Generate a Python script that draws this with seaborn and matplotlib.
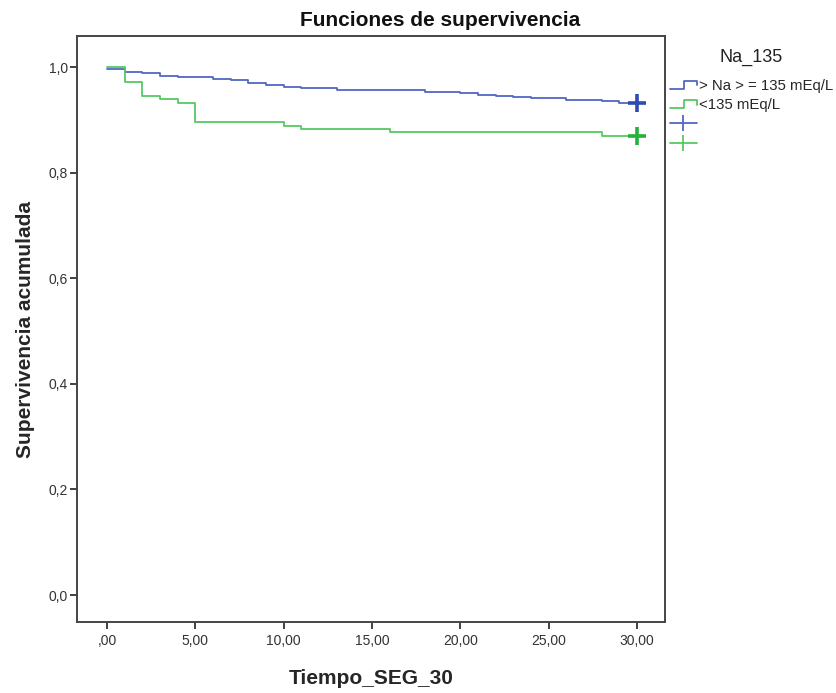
import numpy as np
import pandas as pd
import seaborn as sns
import matplotlib
import matplotlib.pyplot as plt
from matplotlib.lines import Line2D
from matplotlib.legend_handler import HandlerBase, HandlerLine2D

matplotlib.use('Agg')

# Kaplan-Meier steps
t_alto = [0, 1, 2, 3, 4, 6, 7, 8, 9, 10, 11, 13, 18, 20, 21, 22, 23, 24, 26, 28, 29, 30]
s_alto = [0.997, 0.991, 0.989, 0.984, 0.981, 0.978, 0.975, 0.970, 0.967, 0.963, 0.960,
          0.957, 0.953, 0.951, 0.948, 0.945, 0.943, 0.941, 0.938, 0.936, 0.932, 0.932]
t_bajo = [0, 1, 2, 3, 4, 5, 10, 11, 16, 28, 30]
s_bajo = [1.0, 0.971, 0.946, 0.940, 0.933, 0.896, 0.889, 0.883, 0.877, 0.870, 0.870]

grupos = ["> Na > = 135 mEq/L", "<135 mEq/L"]
colores_linea = ["#5068c4", "#56c862"]
colores_censura = ["#2f4cb0", "#25b23a"]

x_ticks = [0, 5, 10, 15, 20, 25, 30]
x_labels = [",00", "5,00", "10,00", "15,00", "20,00", "25,00", "30,00"]
y_ticks = [0.0, 0.2, 0.4, 0.6, 0.8, 1.0]
y_labels = ["0,0", "0,2", "0,4", "0,6", "0,8", "1,0"]

df = pd.concat([
    pd.DataFrame({"t": t_alto, "s": s_alto, "grupo": grupos[0]}),
    pd.DataFrame({"t": t_bajo, "s": s_bajo, "grupo": grupos[1]}),
], ignore_index=True)
censura = df.groupby("grupo", sort=False).tail(1)

sns.set_theme(style="white")
plt.rcParams['font.family'] = ['Liberation Sans', 'DejaVu Sans']

fig = plt.figure(figsize=(8.36, 6.93), dpi=100)
ax = fig.add_axes([0.0927, 0.1025, 0.7028, 0.8455])

sns.lineplot(data=df, x="t", y="s", hue="grupo", palette=colores_linea,
             drawstyle="steps-post", estimator=None, legend=False, lw=1.3, ax=ax)
# censored marks at the end of each curve
sns.scatterplot(data=censura, x="t", y="s", hue="grupo", palette=colores_censura,
                marker="+", s=170, linewidth=2.6, legend=False, ax=ax, zorder=5)

ax.set_xlim(-1.67, 31.58)
ax.set_ylim(-0.051, 1.059)
ax.set_xticks(x_ticks, x_labels)
ax.set_yticks(y_ticks, y_labels)
ax.tick_params(axis="both", direction="out", length=5, width=1.3, color="#333333",
               labelsize=10, labelcolor="#333333", bottom=True, left=True)
ax.tick_params(axis="x", pad=4)
ax.tick_params(axis="y", pad=2)
for sp in ax.spines.values():
    sp.set_color("#444444")
    sp.set_linewidth(1.4)

ax.set_xlabel("Tiempo_SEG_30", fontsize=15, fontweight="bold", labelpad=15)
ax.set_ylabel("Supervivencia acumulada", fontsize=15, fontweight="bold", labelpad=10)
fig.text(440 / 836, 1 - 20 / 693, "Funciones de supervivencia", fontsize=15,
         fontweight="bold", ha="center", va="center", color="#111111")


class StepHandler(HandlerBase):
    def create_artists(self, legend, orig_handle, xdescent, ydescent,
                       width, height, fontsize, trans):
        x0 = -xdescent
        y0 = -ydescent
        xs = [x0, x0 + width * 0.55, x0 + width * 0.55, x0 + width, x0 + width]
        ys = [y0 + height * 0.1, y0 + height * 0.1, y0 + height * 0.9,
              y0 + height * 0.9, y0 + height * 0.45]
        ln = Line2D(xs, ys, color=orig_handle.get_color(), lw=1.3)
        ln.set_transform(trans)
        return [ln]


h_step = [Line2D([], [], color=c) for c in colores_linea]
h_cens = [Line2D([], [], color=c, marker="|", ms=11, mew=1.3, lw=1.3) for c in colores_linea]
handler_map = {h: StepHandler() for h in h_step}
handler_map.update({h: HandlerLine2D(numpoints=1) for h in h_cens})

fig.text(751 / 836, 1 - 57 / 693, "Na_135", fontsize=13, ha="center", va="center",
         color="#222222")
fig.legend(h_step + h_cens, grupos + ["", ""], handler_map=handler_map,
           loc="upper left", bbox_to_anchor=(0.801, 1 - 79 / 693), frameon=False,
           fontsize=10.8, handlelength=1.8, handletextpad=0.15, labelspacing=0.35,
           borderpad=0.0, borderaxespad=0.0)

fig.savefig("out.png", dpi=100)
plt.close(fig)
